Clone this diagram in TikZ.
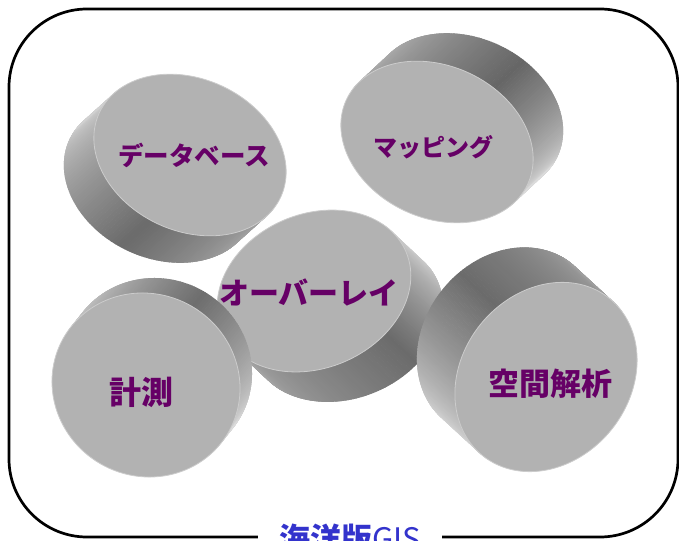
\documentclass[tikz,border=0pt]{standalone}
\usepackage{fontspec}
\newfontfamily\jp{Noto Sans CJK JP}
\definecolor{lbl}{RGB}{102,0,102}
\definecolor{ttl}{RGB}{51,51,204}
\definecolor{facec}{gray}{0.70}
\definecolor{rimc}{gray}{0.80}
\newcommand\PX[1]{(\cx)+(\ea)*cos(#1)*(\cth)-(\eb)*sin(#1)*(\sth)}
\newcommand\PY[1]{(\cy)+(\ea)*cos(#1)*(\sth)+(\eb)*sin(#1)*(\cth)}
\newcommand\prof[4]{\def\gA{#1}\def\sM{#2}\def\gM{#3}\def\gB{#4}}
% #1 cx, #2 cy, #3 a, #4 b, #5 theta (clockwise, image coords), #6 dx, #7 dy
\newcommand\cyl[7]{%
  \pgfmathsetmacro\cx{#1}\pgfmathsetmacro\cy{#2}%
  \pgfmathsetmacro\ea{#3}\pgfmathsetmacro\eb{#4}%
  \pgfmathsetmacro\cth{cos(#5)}\pgfmathsetmacro\sth{sin(#5)}%
  \pgfmathsetmacro\dx{#6}\pgfmathsetmacro\dy{#7}%
  \pgfmathsetmacro\dpx{(\dx)*(\cth)+(\dy)*(\sth)}%
  \pgfmathsetmacro\dpy{-(\dx)*(\sth)+(\dy)*(\cth)}%
  \pgfmathsetmacro\tz{atan2(-(\eb)*(\dpx),(\ea)*(\dpy))}%
  \pgfmathsetmacro\tz{((\eb)*cos(\tz+90)*(\dpx)+(\ea)*sin(\tz+90)*(\dpy))<0 ? \tz+180 : \tz}%
  \pgfmathsetmacro\tb{\tz+180}\pgfmathsetmacro\te{\tz+360}%
  \begin{scope}
    \clip plot[domain=\tz:\tb, samples=90, variable=\t] ({\PX{\t}+(\dx)},{\PY{\t}+(\dy)})
      -- plot[domain=\tb:\te, samples=90, variable=\t] ({\PX{\t}},{\PY{\t}}) -- cycle;
    \foreach \kk in {0,...,120}{%
      \pgfmathsetmacro\sv{\kk/120}%
      \pgfmathsetmacro\tc{\tz+180*\sv}%
      \pgfmathsetmacro\gv{\sv<\sM ? \gA+(\gM-\gA)*\sv/\sM : \gM+(\gB-\gM)*(\sv-\sM)/(1-\sM)}%
      \definecolor{stc}{gray}{\gv}%
      \draw[stc, line width=3pt] ({\PX{\tc}-0.3*(\dx)},{\PY{\tc}-0.3*(\dy)}) -- ++({1.6*(\dx)},{1.6*(\dy)});
    }
  \end{scope}
  \filldraw[fill=facec, draw=rimc, line width=0.8pt] plot[smooth cycle, domain=0:357, samples=120, variable=\t] ({\PX{\t}},{\PY{\t}});
}
\tikzset{
  lab/.style={text=lbl, inner sep=0pt},
  frame/.style={line width=2.7pt, rounded corners=78pt},
}
\begin{document}
\begin{tikzpicture}[x=1pt, y=-1pt]
\useasboundingbox (0,0) rectangle (679,540);
\draw[frame] (9,9) rectangle (678,537);
% データベース
\prof{0.66}{0.43}{0.42}{0.82}
\cyl{190}{155}{100}{76}{25}{-30}{27}
\node[lab, font=\jp\bfseries\fontsize{25.5}{30}\selectfont] (db) at (194,155) {データベース};
% マッピング
\prof{0.70}{0.50}{0.40}{0.86}
\cyl{437}{142}{100}{76}{25}{30}{-28}
\node[lab, font=\jp\bfseries\fontsize{24}{28}\selectfont] (map) at (433,147) {マッピング};
% オーバーレイ
\prof{0.85}{0.44}{0.42}{0.64}
\cyl{314}{291}{100}{77}{-23}{32}{30}
\node[lab, font=\jp\bfseries\fontsize{30}{34}\selectfont] (ov) at (309,292) {オーバーレイ};
% 計測
\prof{0.80}{0.46}{0.43}{0.86}
\cyl{146}{385}{95}{91}{30}{12}{-15}
\node[lab, font=\jp\bfseries\fontsize{32}{36}\selectfont] (meas) at (141,392) {計測};
% 空間解析
\prof{0.86}{0.56}{0.42}{0.62}
\cyl{546}{377}{101}{84}{-51}{-38}{-35}
\node[lab, font=\jp\bfseries\fontsize{31}{35}\selectfont] (spa) at (550,384) {空間解析};
% title
\node[fill=white, inner xsep=21pt, inner ysep=2pt, anchor=base, text=ttl,
      font=\jp\fontsize{31}{36}\selectfont] (title) at (350,550) {{\bfseries 海洋版}GIS};
\end{tikzpicture}
\end{document}
